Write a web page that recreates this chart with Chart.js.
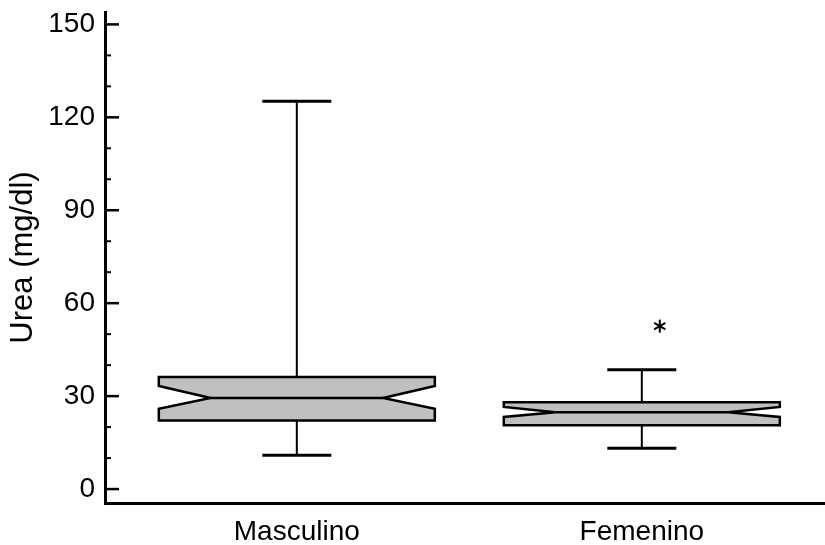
<!DOCTYPE html>
<html><head><meta charset="utf-8">
<script src="https://cdn.jsdelivr.net/npm/chart.js@4.4.1/dist/chart.umd.min.js"></script>
<style>html,body{margin:0;padding:0;background:#fff}#wrap{width:825px;height:545px;position:relative}</style>
</head><body><div id="wrap"><canvas id="c"></canvas></div>
<script>
// ---- data ----
const categories   = ['Masculino', 'Femenino'];
const whiskerLow   = [10.9, 13.2];
const q1           = [22.1, 20.6];
const median       = [29.4, 24.8];
const q3           = [36.2, 28.0];
const whiskerHigh  = [125.2, 38.5];
const notchLow     = [25.9, 23.3];
const notchHigh    = [33.3, 26.5];
const outliers     = [[], [52.6]];
const yMajorTicks  = [0, 30, 60, 90, 120, 150];
const yMinorTicks  = [10, 20, 40, 50, 70, 80, 100, 110, 130, 140];
const yTitle       = 'Urea (mg/dl)';

// ---- style ----
const FONT = '"Liberation Sans", Arial, sans-serif';
const BOX_HALF = 0.40, CAP_HALF = 0.10, NOTCH_INSET = 0.15;

function line(ctx, x1, y1, x2, y2) { ctx.beginPath(); ctx.moveTo(x1, y1); ctx.lineTo(x2, y2); ctx.stroke(); }

const boxPlugin = {
  id: 'boxes',
  afterDatasetsDraw(chart) {
    const { ctx, scales: { x, y } } = chart;
    const py = v => y.getPixelForValue(v);
    ctx.save();
    ctx.strokeStyle = '#000';
    ctx.lineCap = 'butt';
    categories.forEach((c, i) => {
      const k = i + 1;
      const cx = x.getPixelForValue(k);
      const L = x.getPixelForValue(k - BOX_HALF), R = x.getPixelForValue(k + BOX_HALF);
      const NL = x.getPixelForValue(k - BOX_HALF + NOTCH_INSET), NR = x.getPixelForValue(k + BOX_HALF - NOTCH_INSET);
      const cL = x.getPixelForValue(k - CAP_HALF), cR = x.getPixelForValue(k + CAP_HALF);
      // whiskers
      ctx.lineWidth = 2;
      line(ctx, cx, py(q3[i]), cx, py(whiskerHigh[i]));
      line(ctx, cx, py(q1[i]), cx, py(whiskerLow[i]));
      ctx.lineWidth = 3;
      line(ctx, cL, py(whiskerHigh[i]), cR, py(whiskerHigh[i]));
      line(ctx, cL, py(whiskerLow[i]), cR, py(whiskerLow[i]));
      // notched box
      ctx.beginPath();
      ctx.moveTo(L, py(q3[i]));
      ctx.lineTo(R, py(q3[i]));
      ctx.lineTo(R, py(notchHigh[i]));
      ctx.lineTo(NR, py(median[i]));
      ctx.lineTo(R, py(notchLow[i]));
      ctx.lineTo(R, py(q1[i]));
      ctx.lineTo(L, py(q1[i]));
      ctx.lineTo(L, py(notchLow[i]));
      ctx.lineTo(NL, py(median[i]));
      ctx.lineTo(L, py(notchHigh[i]));
      ctx.closePath();
      ctx.fillStyle = '#c0c0c0';
      ctx.fill();
      ctx.lineWidth = 2.5;
      ctx.lineJoin = 'miter';
      ctx.stroke();
      // median
      line(ctx, NL, py(median[i]), NR, py(median[i]));
      // outliers as asterisks
      ctx.lineWidth = 2;
      outliers[i].forEach(v => {
        const ox = cx + 18, oy = py(v), r = 6.5;
        for (let a = 0; a < 3; a++) {
          const ang = Math.PI / 2 + a * Math.PI / 3;
          line(ctx, ox - r * Math.cos(ang), oy - r * Math.sin(ang), ox + r * Math.cos(ang), oy + r * Math.sin(ang));
        }
      });
    });
    ctx.restore();
  },
  afterDraw(chart) {
    const { ctx, scales: { y } } = chart;
    const ax = chart.chartArea.left;
    ctx.save();
    ctx.strokeStyle = '#000';
    ctx.lineWidth = 2.5;
    yMajorTicks.forEach(v => line(ctx, ax, y.getPixelForValue(v), ax + 14, y.getPixelForValue(v)));
    ctx.lineWidth = 2;
    yMinorTicks.forEach(v => line(ctx, ax, y.getPixelForValue(v), ax + 6, y.getPixelForValue(v)));
    ctx.restore();
  }
};

new Chart(document.getElementById('c'), {
  type: 'scatter',
  data: {
    datasets: [{
      data: categories.map((c, i) => ({ x: i + 1, y: median[i] })),
      pointRadius: 0, showLine: false
    }]
  },
  options: {
    responsive: true, maintainAspectRatio: false, animation: false,
    layout: { padding: { top: 12, right: 0, left: 0, bottom: 0 } },
    plugins: { legend: { display: false }, tooltip: { enabled: false } },
    scales: {
      x: {
        type: 'linear', min: 0.444, max: 2.531,
        afterBuildTicks: s => { s.ticks = categories.map((c, i) => ({ value: i + 1 })); },
        afterFit: s => { s.height = 42; s.paddingLeft = 0; s.paddingRight = 0; },
        grid: { display: false, drawTicks: false },
        border: { display: true, color: '#000', width: 3 },
        ticks: { autoSkip: false, maxRotation: 0, padding: 12, color: '#000',
                 font: { family: FONT, size: 28 },
                 callback: v => categories[v - 1] }
      },
      y: {
        type: 'linear', min: -4.5, max: 154,
        afterBuildTicks: s => { s.ticks = yMajorTicks.map(v => ({ value: v })); },
        afterFit: s => { s.width = 105; s.paddingTop = 0; s.paddingBottom = 0; },
        grid: { display: false, drawTicks: false },
        border: { display: true, color: '#000', width: 3 },
        ticks: { autoSkip: false, padding: 10, color: '#000', font: { family: FONT, size: 28 } },
        title: { display: true, text: yTitle, color: '#000', padding: { top: 5, bottom: 0 },
                 font: { family: FONT, size: 31 } }
      }
    }
  },
  plugins: [boxPlugin]
});
</script></body></html>
